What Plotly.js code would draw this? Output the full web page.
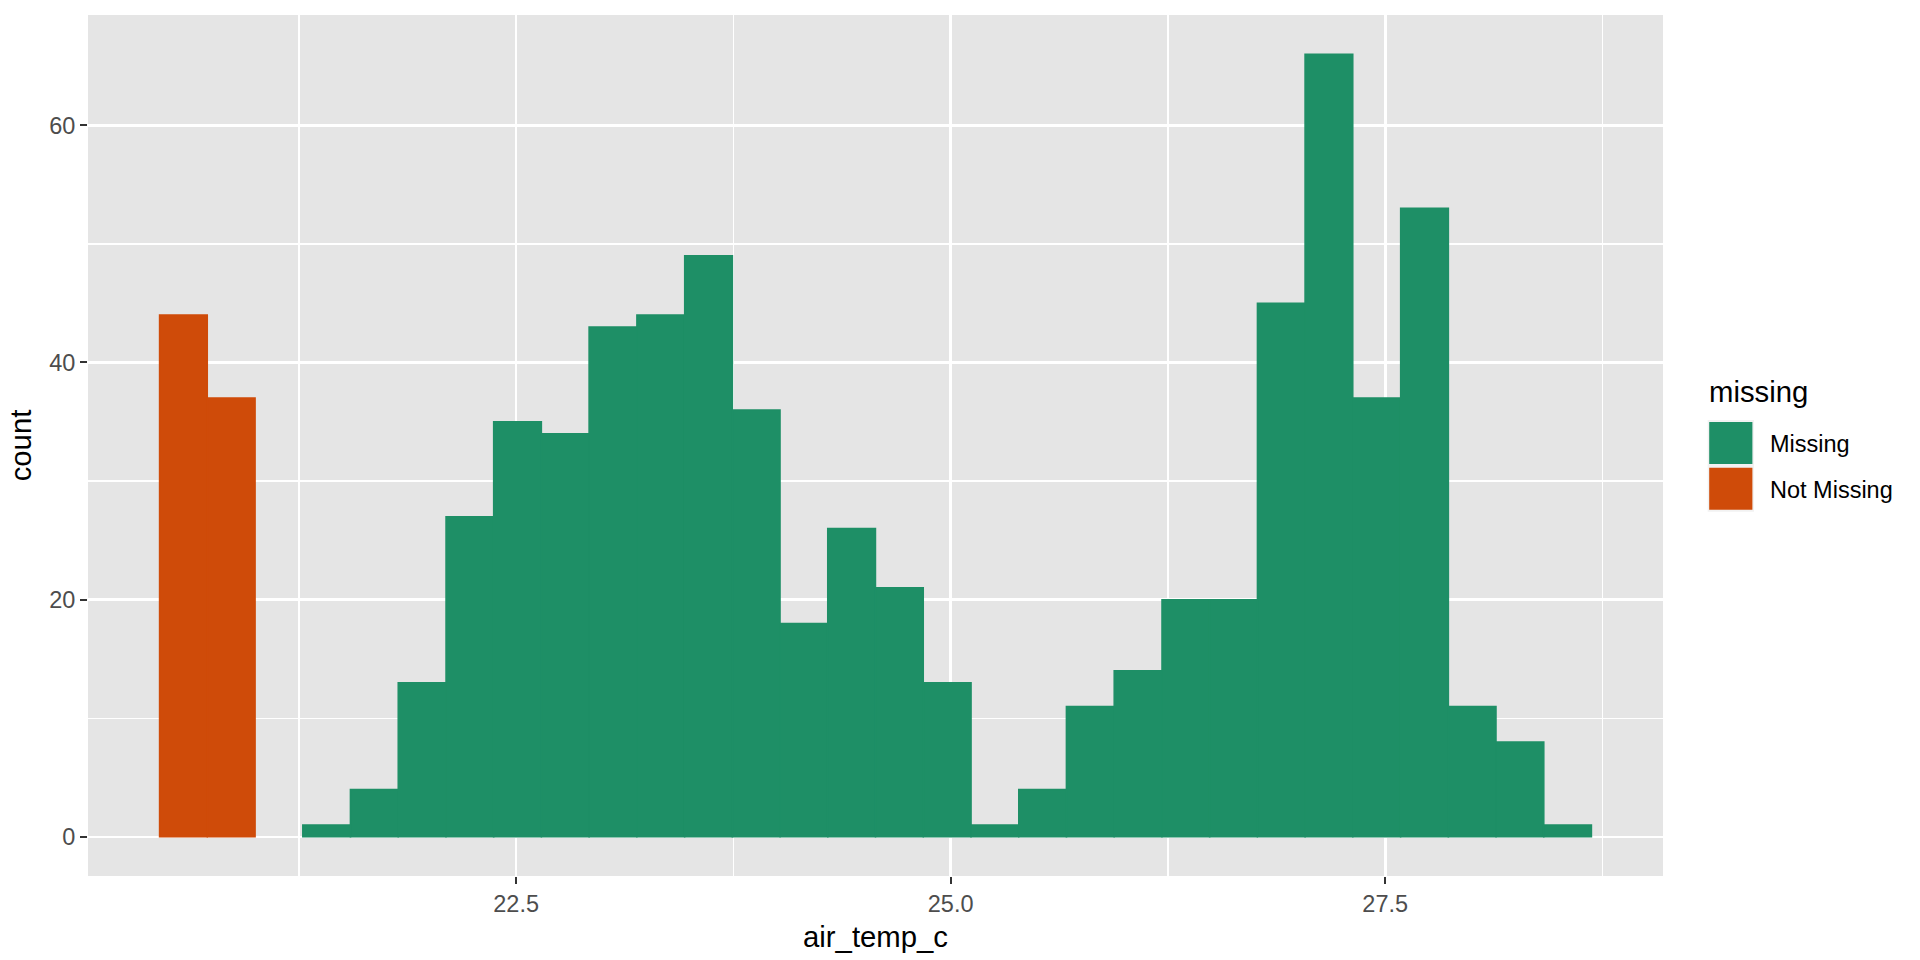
<!DOCTYPE html>
<html>
<head>
<meta charset="utf-8">
<script src="https://cdn.plot.ly/plotly-3.0.1.min.js"></script>
<style>html,body{margin:0;padding:0;background:#fff;}#chart{width:1920px;height:960px;}</style>
</head>
<body>
<div id="chart"></div>
<script>
// Histogram bins (30 bins, width ~0.2746 °C); centres of bins
const binWidth = 0.2746;
const missingCenters = [21.410, 21.684, 21.959, 22.234, 22.508, 22.783, 23.057, 23.332, 23.607,
  23.881, 24.156, 24.430, 24.705, 24.980, 25.254, 25.529, 25.803, 26.078, 26.353, 26.627,
  26.902, 27.176, 27.451, 27.726, 28.000, 28.275, 28.549];
const missingCounts = [1, 4, 13, 27, 35, 34, 43, 44, 49, 36, 18, 26, 21, 13, 1, 4, 11, 14,
  20, 20, 45, 66, 37, 53, 11, 8, 1];
const notMissingCenters = [20.586, 20.861];
const notMissingCounts = [44, 37];
const groups = ["Missing", "Not Missing"];
const groupColors = ["#1E8F66", "#CF4B09"];
const xTitle = "air_temp_c";
const yTitle = "count";
const legendTitle = "missing";

const FONT = "Liberation Sans, Arial, Helvetica, sans-serif";

const traces = [
  {type: "bar", name: groups[0], x: missingCenters, y: missingCounts, width: binWidth,
   marker: {color: groupColors[0], line: {width: 1.5, color: groupColors[0]}}, showlegend: false, hoverinfo: "x+y"},
  {type: "bar", name: groups[1], x: notMissingCenters, y: notMissingCounts, width: binWidth,
   marker: {color: groupColors[1], line: {width: 1.5, color: groupColors[1]}}, showlegend: false, hoverinfo: "x+y"}
];

// manual ggplot-style legend (paper coordinates outside the panel)
const L = 88, W = 1575, T = 15, H = 861;
const px = v => (v - L) / W;
const py = v => (T + H - v) / H;
const shapes = [];
const annotations = [];
const keyTops = [420, 465.7];
const keyH = 46;
groups.forEach((g, i) => {
  const top = keyTops[i];
  shapes.push({type: "rect", xref: "paper", yref: "paper", x0: px(1707.7), x1: px(1754),
    y0: py(top + keyH), y1: py(top), fillcolor: "#F2F2F2", line: {width: 0}, layer: "above"});
  shapes.push({type: "rect", xref: "paper", yref: "paper", x0: px(1709.2), x1: px(1752.4),
    y0: py(top + keyH - 2), y1: py(top + 2), fillcolor: groupColors[i], line: {width: 0}, layer: "above"});
  annotations.push({xref: "paper", yref: "paper", x: px(1768), y: py(top + keyH / 2 + 1),
    xanchor: "left", yanchor: "middle", showarrow: false, text: g,
    font: {family: FONT, size: 23.5, color: "#000000"}});
});
annotations.push({xref: "paper", yref: "paper", x: px(1707), y: py(392), xanchor: "left",
  yanchor: "middle", showarrow: false, text: legendTitle,
  font: {family: FONT, size: 29.3, color: "#000000"}});

const layout = {
  width: 1920, height: 960,
  margin: {l: 88, r: 257, t: 15, b: 84, pad: 0},
  paper_bgcolor: "#FFFFFF", plot_bgcolor: "#E5E5E5",
  barmode: "overlay", bargap: 0,
  font: {family: FONT},
  xaxis: {
    range: [20.037, 29.098], tick0: 0, dtick: 2.5, tickformat: ".1f",
    ticks: "outside", ticklen: 7, tickwidth: 2, tickcolor: "#333333",
    showgrid: true, gridcolor: "#FFFFFF", gridwidth: 2.7,
    minor: {dtick: 1.25, tick0: 0, showgrid: true, gridcolor: "#FFFFFF", gridwidth: 1.4, ticks: ""},
    zeroline: false, showline: false, automargin: false,
    tickfont: {family: FONT, size: 23.5, color: "#4D4D4D"},
    title: {text: xTitle, font: {family: FONT, size: 29.3, color: "#000000"}, standoff: 10}
  },
  yaxis: {
    range: [-3.3, 69.3], tick0: 0, dtick: 20,
    ticks: "outside", ticklen: 7, tickwidth: 2, tickcolor: "#333333",
    showgrid: true, gridcolor: "#FFFFFF", gridwidth: 2.7,
    minor: {dtick: 10, tick0: 0, showgrid: true, gridcolor: "#FFFFFF", gridwidth: 1.4, ticks: ""},
    zeroline: false, showline: false, automargin: false,
    tickfont: {family: FONT, size: 23.5, color: "#4D4D4D"},
    title: {text: yTitle, font: {family: FONT, size: 29.3, color: "#000000"}, standoff: 8}
  },
  shapes: shapes,
  annotations: annotations,
  showlegend: false
};

Plotly.newPlot("chart", traces, layout, {displayModeBar: false, staticPlot: true});
</script>
</body>
</html>
